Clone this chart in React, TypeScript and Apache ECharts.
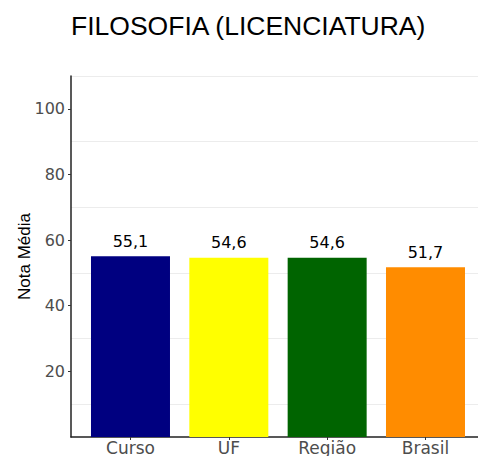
import React, { useEffect, useRef } from "react";
import * as echarts from "echarts";

const categories = ["Curso", "UF", "Região", "Brasil"];
const values = [55.1, 54.6, 54.6, 51.7];
const barColors = ["#000080", "#FFFF00", "#006400", "#FF8C00"];
const yTickValues = [20, 40, 60, 80, 100];
const titleText = "FILOSOFIA (LICENCIATURA)";
const yAxisTitle = "Nota Média";

export default function App() {
  const ref = useRef<HTMLDivElement>(null);
  useEffect(() => {
    document.body.style.margin = "0";
    const chart = echarts.init(ref.current!, null, { renderer: "svg" });
    const positions = categories.map((_, i) => i + 1);
    chart.setOption({
      animation: false,
      backgroundColor: "#ffffff",
      title: {
        text: titleText,
        left: 71,
        top: 12,
        padding: 0,
        textStyle: {
          fontFamily: "Liberation Sans",
          fontSize: 26.5,
          fontWeight: "normal",
          color: "#000000",
        },
      },
      grid: { left: 71, right: 0, top: 76, bottom: 18, containLabel: false },
      xAxis: {
        type: "value",
        min: 0.395,
        max: 4.534,
        axisLine: { show: true, lineStyle: { color: "#222222", width: 1.5 } },
        axisTick: {
          show: true,
          length: 3,
          customValues: positions,
          lineStyle: { color: "#333333" },
        },
        splitLine: { show: false },
        axisLabel: {
          customValues: positions,
          margin: 2,
          fontFamily: "DejaVu Sans",
          fontSize: 17,
          color: "#4d4d4d",
          formatter: (v: number) => categories[Math.round(v) - 1] ?? "",
        },
      },
      yAxis: [
        {
          type: "value",
          min: 0,
          max: 110,
          interval: 20,
          name: yAxisTitle,
          nameLocation: "middle",
          nameGap: 38,
          nameMoveOverlap: false,
          nameTextStyle: {
            fontFamily: "Liberation Sans",
            fontSize: 17,
            color: "#000000",
          },
          axisLine: { show: true, lineStyle: { color: "#222222", width: 1.5 } },
          axisTick: {
            show: true,
            length: 3,
            customValues: yTickValues,
            lineStyle: { color: "#333333" },
          },
          axisLabel: {
            customValues: yTickValues,
            margin: 6,
            fontFamily: "DejaVu Sans",
            fontSize: 16,
            color: "#4d4d4d",
          },
          splitLine: { show: false },
        },
        {
          type: "value",
          min: 0,
          max: 110,
          interval: 10,
          position: "left",
          axisLine: { show: false },
          axisTick: { show: false },
          axisLabel: { show: false },
          splitLine: {
            show: true,
            lineStyle: { color: ["rgba(0,0,0,0)", "#ececec"], width: 1 },
          },
        },
      ],
      series: [
        {
          type: "bar",
          xAxisIndex: 0,
          yAxisIndex: 0,
          barWidth: 79,
          data: values.map((v, i) => ({
            value: [positions[i], v],
            itemStyle: { color: barColors[i] },
          })),
          label: {
            show: true,
            position: "top",
            distance: 7,
            fontFamily: "DejaVu Sans",
            fontSize: 16,
            color: "#000000",
            formatter: (p: any) => p.value[1].toFixed(1).replace(".", ","),
          },
        },
      ],
    });
    return () => chart.dispose();
  }, []);
  return <div ref={ref} style={{ width: 478, height: 456 }} />;
}
